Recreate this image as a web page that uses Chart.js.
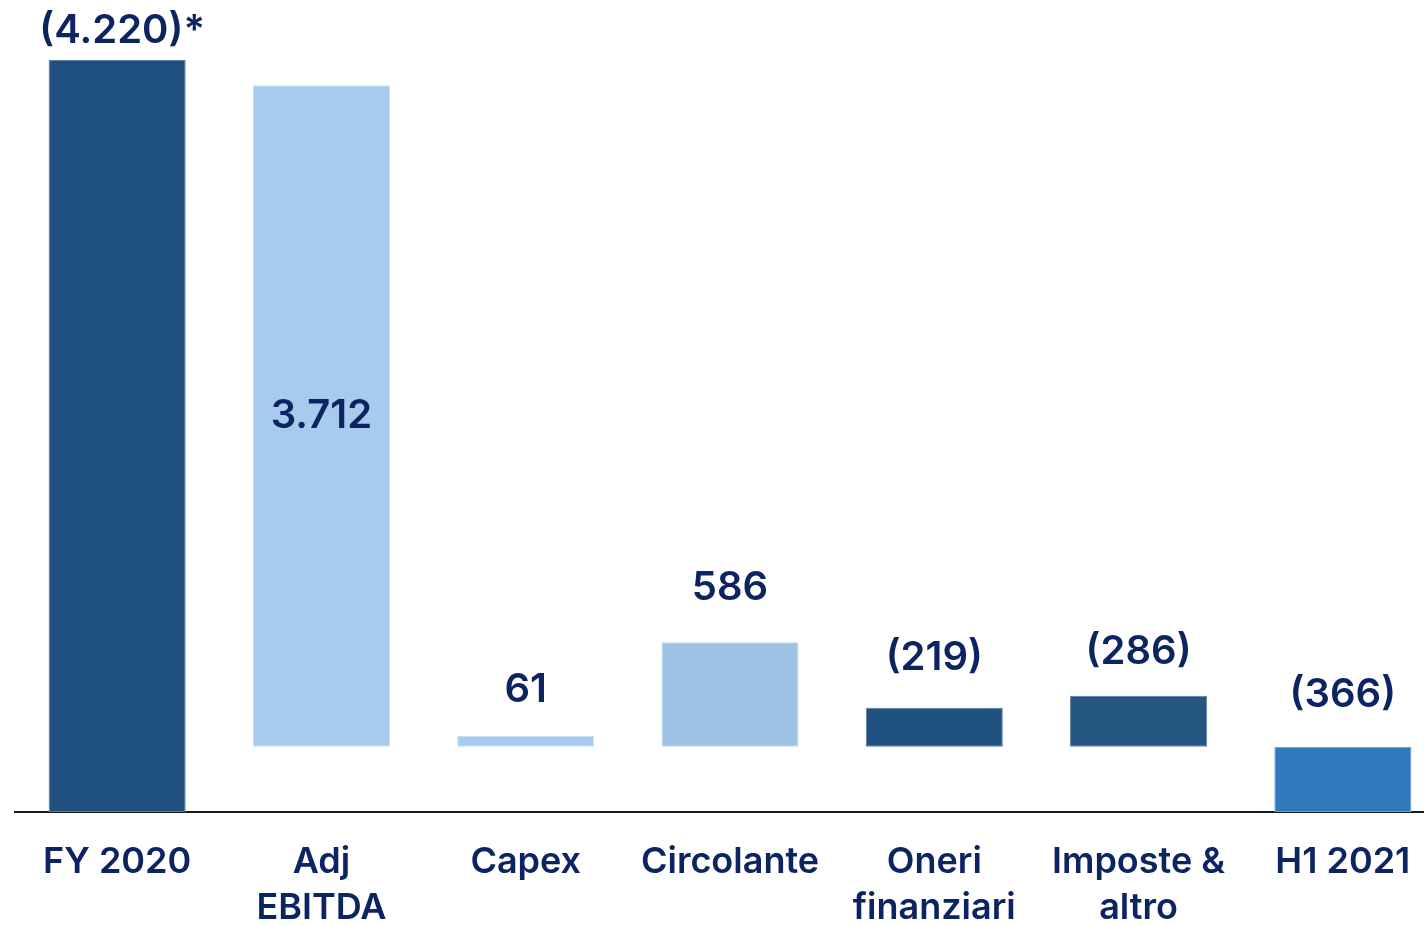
<!DOCTYPE html>
<html>
<head>
<meta charset="utf-8">
<script src="https://cdn.jsdelivr.net/npm/chart.js@4"></script>
<style>
  html, body { margin: 0; padding: 0; background: #fff; overflow: hidden; }
  #wrap { width: 1445px; height: 926px; }
</style>
</head>
<body>
<div id="wrap"><canvas id="bridge" width="1445" height="926"></canvas></div>
<script>
const $ = id => document.getElementById(id);

// Data (values in millions, bars float from their start value)
const categories = ["FY 2020", ["Adj", "EBITDA"], "Capex", "Circolante", ["Oneri", "finanziari"], ["Imposte &", "altro"], "H1 2021"];
const amounts = [4220, 3712, 61, 586, 219, 286, 366];
const starts = [0, 366, 366, 366, 366, 366, 0];
const valueLabels = ["(4.220)*", "3.712", "61", "586", "(219)", "(286)", "(366)"];

// Styling
const navy = "#0c2461";
const barColors = ["#20507d", "#a7cbee", "#a7cbee", "#9dc2e6", "#20507d", "#255682", "#2f78bc"];
const barEdges = ["#5d7fa0", "#c9def3", "#c9def3", "#c1d8ee", "#5d7fa0", "#6080a0", "#6a9dd0"];
const labelGap = [32, null, 48, 57, 52, 46, 54]; // px between bar top and label centre, null = inside
const labelSize = 40;

const valueLabelPlugin = {
  id: "valueLabels",
  afterDatasetsDraw(chart) {
    const ctx = chart.ctx;
    const bars = chart.getDatasetMeta(0).data;
    const halfCap = labelSize * 0.727 / 2;
    ctx.save();
    ctx.font = "600 " + labelSize + "px Inter";
    ctx.fillStyle = navy;
    ctx.textAlign = "center";
    ctx.textBaseline = "alphabetic";
    bars.forEach((bar, i) => {
      const top = Math.min(bar.y, bar.base);
      let centre;
      if (labelGap[i] === null) {
        centre = (bar.y + bar.base) / 2 - 3;
      } else {
        centre = top - labelGap[i];
      }
      const x = i === 0 ? bar.x + 5 : bar.x;
      ctx.fillText(valueLabels[i], x, centre + halfCap);
    });
    ctx.restore();
  }
};

Chart.defaults.font.family = "Inter";

new Chart($("bridge"), {
  type: "bar",
  data: {
    labels: categories,
    datasets: [{
      data: amounts.map((v, i) => [starts[i], starts[i] + v]),
      backgroundColor: barColors,
      borderColor: barEdges,
      borderWidth: 1,
      borderSkipped: false,
      barPercentage: 0.671,
      categoryPercentage: 1
    }]
  },
  options: {
    responsive: false,
    animation: false,
    layout: { padding: { left: 15, right: 0, top: 0, bottom: 0 } },
    plugins: { legend: { display: false }, tooltip: { enabled: false } },
    scales: {
      y: { display: false, min: 0, max: 4557 },
      x: {
        grid: { display: false, drawTicks: false },
        border: { display: true, color: "#1a1a1a", width: 2 },
        ticks: {
          color: navy,
          font: { size: 36, weight: "600", lineHeight: 1.28 },
          padding: 27,
          maxRotation: 0,
          autoSkip: false
        },
        afterFit: scale => { scale.height = 114; }
      }
    }
  },
  plugins: [valueLabelPlugin]
});
</script>
</body>
</html>
